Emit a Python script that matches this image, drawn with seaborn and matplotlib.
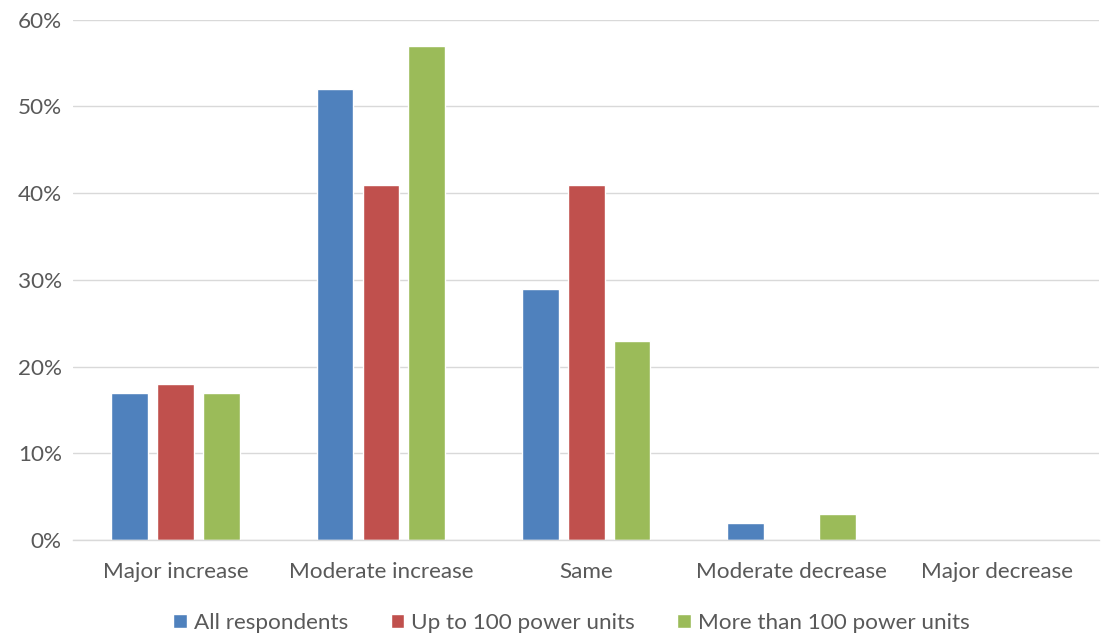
import pandas as pd
import matplotlib.pyplot as plt
import seaborn as sns

categories = ['Major increase', 'Moderate increase', 'Same', 'Moderate decrease', 'Major decrease']
all_respondents = [17, 52, 29, 2, 0]
up_to_100 = [18, 41, 41, 0, 0]
more_than_100 = [17, 57, 23, 3, 0]
series_names = ['All respondents', 'Up to 100 power units', 'More than 100 power units']
colors = ['#4F81BD', '#C0504D', '#9BBB59']
y_ticks = [0, 10, 20, 30, 40, 50, 60]

sns.set_theme(style='white')
plt.rcParams['font.family'] = ['Lato', 'DejaVu Sans']

# long-form table for seaborn
rows = []
for name, vals in zip(series_names, [all_respondents, up_to_100, more_than_100]):
    for cat, v in zip(categories, vals):
        rows.append({'category': cat, 'series': name, 'value': v})
df = pd.DataFrame(rows)

fig = plt.figure(figsize=(11.05, 6.37), dpi=100)
ax = fig.add_axes([0.066, 0.152, 0.929, 0.817])

sns.barplot(data=df, x='category', y='value', hue='series', order=categories,
            hue_order=series_names, palette=colors, width=0.67, gap=0.2,
            saturation=1, ax=ax, legend=True)

ax.set_ylim(0, 60)
ax.set_yticks(y_ticks)
ax.set_yticklabels([f'{t}%' for t in y_ticks])
ax.set_xlim(-0.5, 4.5)
ax.yaxis.grid(True, color='#D9D9D9', linewidth=1)
ax.set_axisbelow(True)
for s in ['top', 'right', 'left']:
    ax.spines[s].set_visible(False)
ax.spines['bottom'].set_color('#D9D9D9')
ax.spines['bottom'].set_linewidth(1)
ax.tick_params(axis='both', length=0, labelsize=16.2, labelcolor='#595959')
ax.tick_params(axis='x', pad=16)
ax.tick_params(axis='y', pad=8)
ax.set_xlabel('')
ax.set_ylabel('')

handles, labels = ax.get_legend_handles_labels()
ax.get_legend().remove()
fig.legend(handles, labels, loc='center', bbox_to_anchor=(0.517, 0.022), ncol=3,
           frameon=False, fontsize=16.2, labelcolor='#595959', handlelength=0.6,
           handleheight=0.6, handletextpad=0.3, columnspacing=1.9)

fig.savefig('out.png', dpi=100)
